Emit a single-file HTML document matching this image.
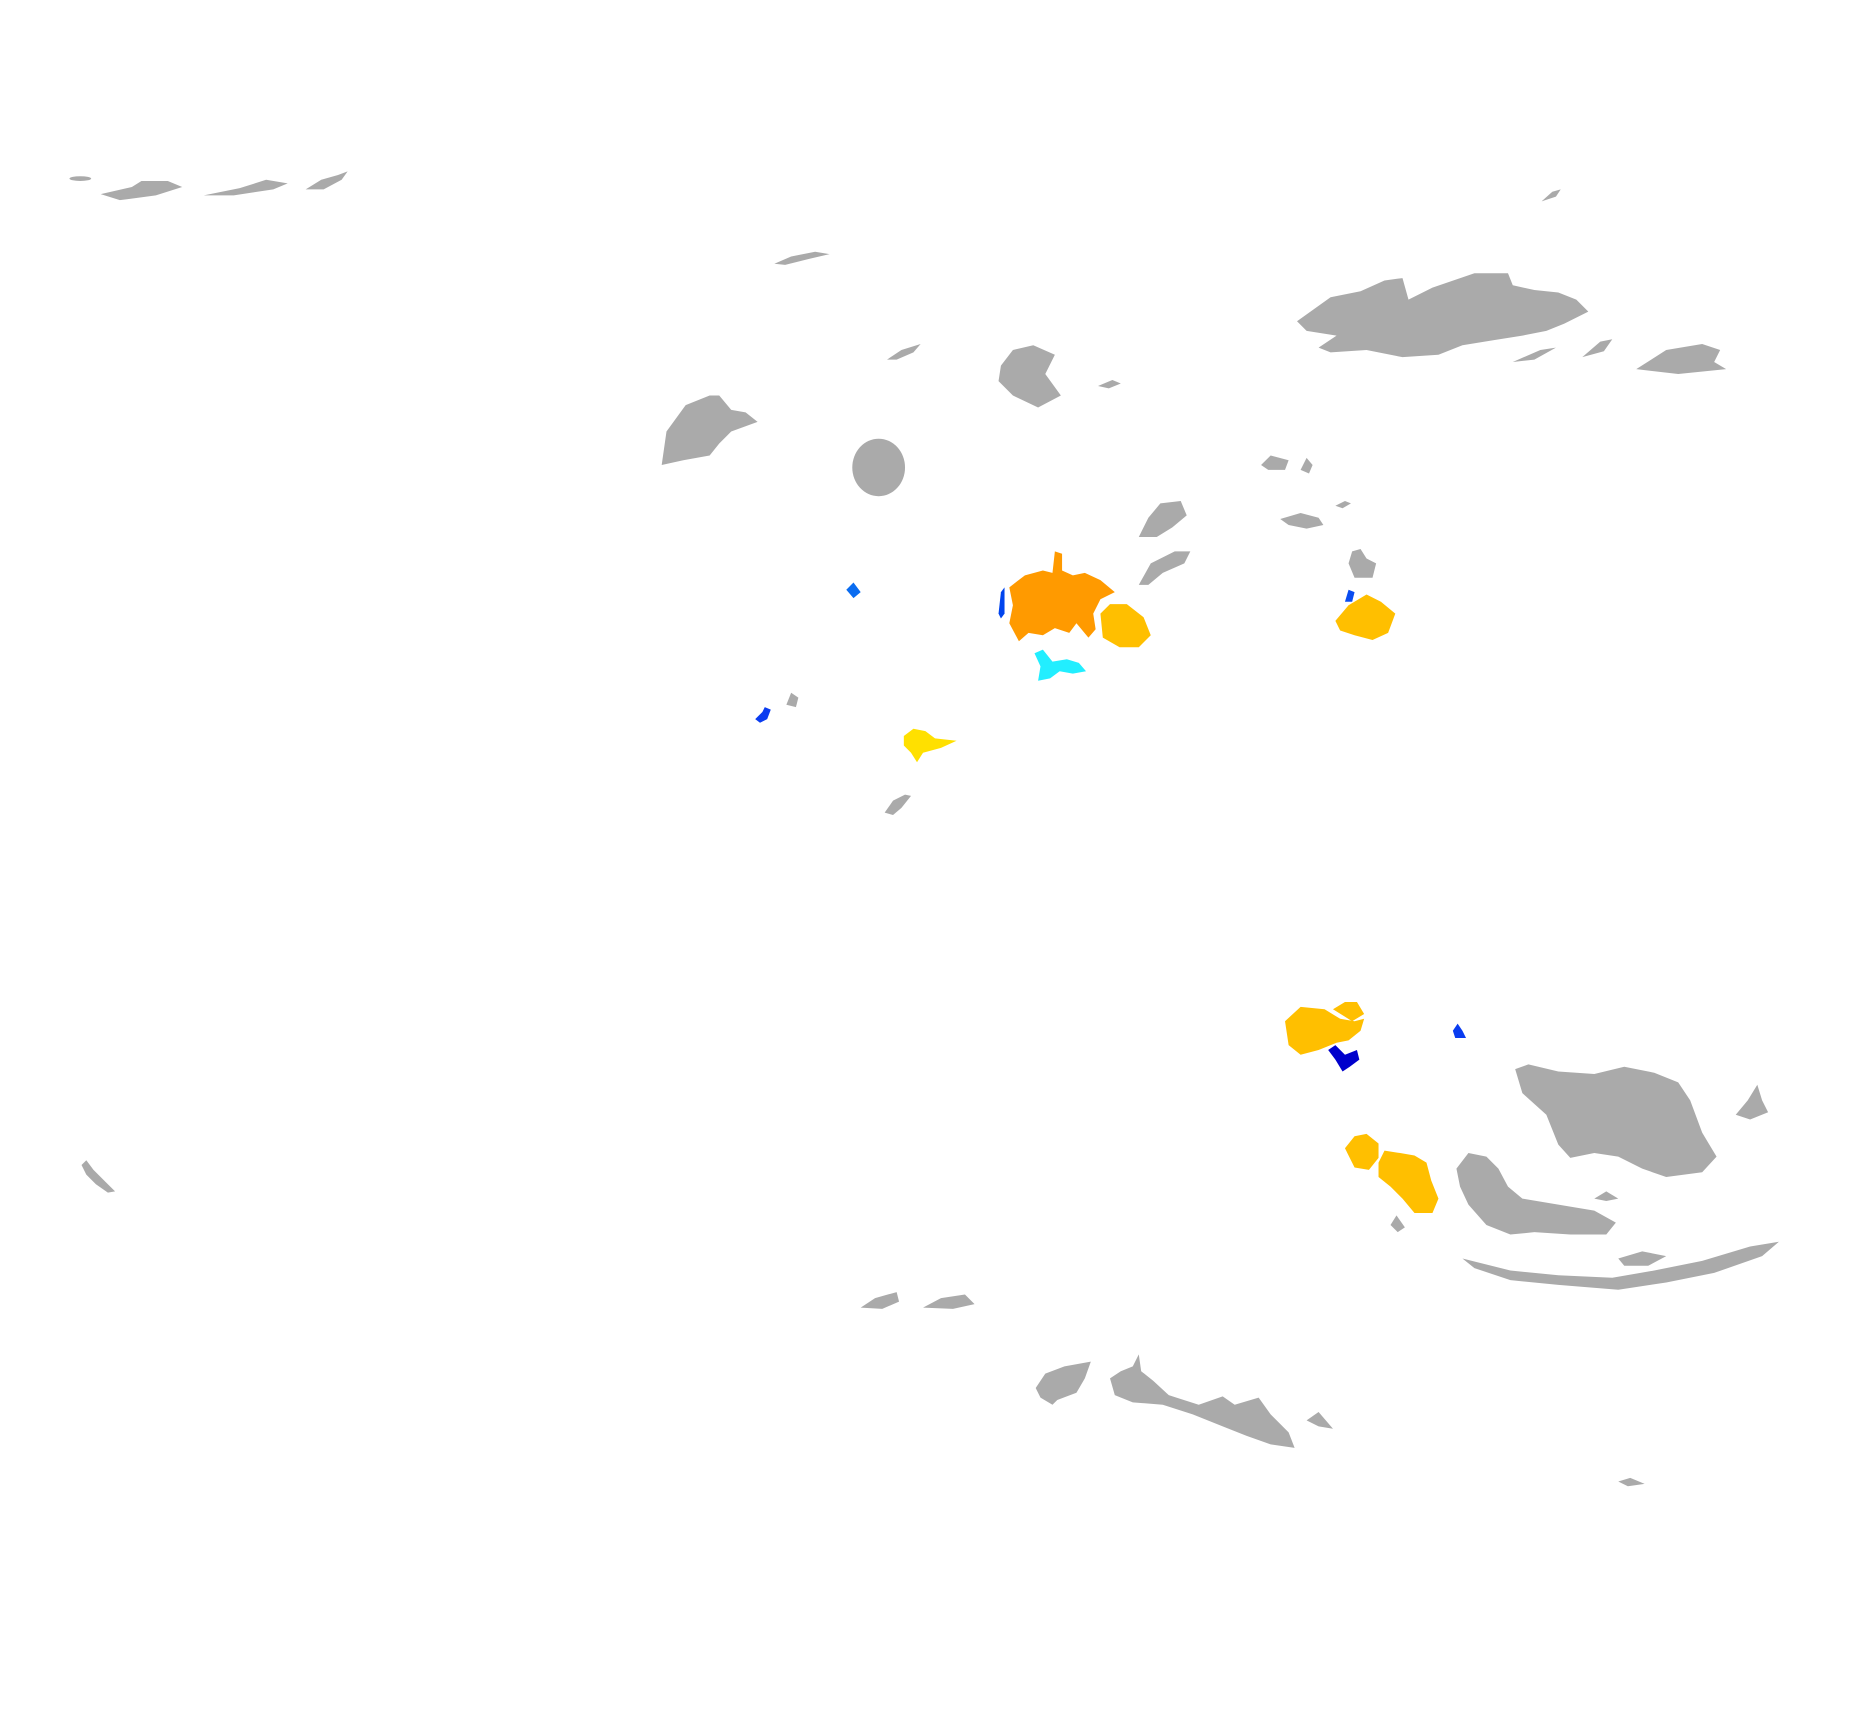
<!DOCTYPE html>
<html><head><meta charset="utf-8"><style>
html,body{margin:0;padding:0;background:#fff;}
svg{display:block;width:1870px;height:1714px;}
</style></head><body>
<svg viewBox="0 0 1560 1430" preserveAspectRatio="none" xmlns="http://www.w3.org/2000/svg">
<g fill="#aaaaaa">
<ellipse cx="67" cy="149" rx="9" ry="2"/>
<path d="M84 162 L110 156 L118 151 L140 151 L152 156 L130 163 L100 167 Z"/>
<path d="M170 163 L200 157 L222 150 L240 153 L228 158 L195 163 Z"/>
<path d="M255 158 L268 150 L282 146 L290 143 L285 150 L270 158 Z"/>
<path d="M646 220 L660 214 L680 210 L692 212 L675 216 L655 221 Z"/>
<path d="M740 300 L752 292 L768 287 L762 294 L748 300 Z"/>
<path d="M835 305 L845 292 L862 288 L880 296 L872 312 L885 330 L866 340 L845 330 L833 318 Z"/>
<path d="M916 322 L928 317 L935 320 L925 324 Z"/>
<path d="M552 388 L556 360 L572 338 L592 330 L600 330 L610 342 L622 344 L632 352 L610 360 L600 370 L592 380 L570 384 Z"/>
<ellipse cx="733" cy="390" rx="22" ry="24"/>
<path d="M1082 268 L1110 248 L1135 243 L1155 234 L1170 232 L1175 250 L1195 240 L1230 228 L1258 228 L1262 238 L1280 242 L1300 244 L1315 250 L1325 260 L1305 270 L1290 276 L1270 280 L1245 284 L1220 288 L1200 296 L1170 298 L1140 292 L1110 294 L1100 290 L1115 280 L1090 276 Z"/>
<path d="M1320 298 L1335 285 L1345 283 L1338 293 Z"/>
<path d="M1262 302 L1285 292 L1298 290 L1280 300 Z"/>
<path d="M1365 308 L1390 292 L1420 287 L1435 292 L1430 302 L1440 308 L1400 312 Z"/>
<path d="M1286 168 L1295 160 L1302 158 L1298 164 Z"/>
<path d="M1052 388 L1060 380 L1075 384 L1072 392 L1058 392 Z"/>
<path d="M1085 392 L1090 382 L1095 388 L1092 395 Z"/>
<path d="M950 448 L958 432 L968 420 L985 418 L990 430 L978 440 L965 448 Z"/>
<path d="M950 488 L960 470 L980 460 L993 460 L988 470 L970 478 L958 488 Z"/>
<path d="M1068 433 L1085 428 L1100 432 L1104 438 L1090 441 L1075 438 Z"/>
<path d="M1114 422 L1122 418 L1127 420 L1120 424 Z"/>
<path d="M1125 470 L1128 460 L1135 458 L1140 466 L1148 470 L1145 482 L1130 482 Z"/>
<path d="M656 588 L660 578 L666 582 L664 590 Z"/>
<path d="M738 678 L745 668 L755 663 L760 664 L752 674 L745 680 Z"/>
<path d="M1264 892 L1275 888 L1300 894 L1330 896 L1355 890 L1380 895 L1400 903 L1410 918 L1420 945 L1432 965 L1420 978 L1390 982 L1370 975 L1350 965 L1330 962 L1310 966 L1300 955 L1290 930 L1270 912 Z"/>
<path d="M1448 930 L1458 918 L1466 905 L1470 918 L1475 928 L1460 934 Z"/>
<path d="M1215 975 L1225 962 L1240 965 L1250 975 L1258 990 L1270 1000 L1300 1005 L1330 1010 L1348 1020 L1340 1030 L1310 1030 L1280 1028 L1260 1030 L1240 1022 L1225 1005 L1218 990 Z"/>
<path d="M1330 1000 L1340 994 L1350 1000 L1340 1002 Z"/>
<path d="M1220 1050 L1260 1060 L1300 1064 L1345 1066 L1380 1060 L1420 1052 L1460 1040 L1484 1036 L1470 1048 L1430 1062 L1390 1070 L1350 1076 L1300 1072 L1260 1068 L1230 1058 Z"/>
<path d="M1350 1050 L1370 1044 L1390 1048 L1375 1056 L1355 1056 Z"/>
<path d="M1160 1022 L1165 1014 L1172 1024 L1166 1028 Z"/>
<path d="M68 972 L72 968 L78 976 L88 986 L96 994 L90 995 L80 988 L72 980 Z"/>
<path d="M718 1091 L730 1083 L748 1078 L750 1086 L736 1092 Z"/>
<path d="M770 1091 L785 1083 L805 1080 L813 1088 L795 1092 Z"/>
<path d="M864 1158 L872 1146 L888 1140 L910 1136 L905 1150 L898 1162 L882 1168 L878 1172 L868 1166 Z"/>
<path d="M926 1150 L935 1144 L945 1140 L950 1130 L952 1144 L962 1152 L975 1164 L1000 1172 L1020 1165 L1030 1172 L1050 1166 L1060 1180 L1075 1195 L1080 1208 L1060 1205 L1040 1198 L1020 1190 L995 1180 L970 1172 L945 1170 L930 1164 Z"/>
<path d="M1090 1185 L1100 1178 L1112 1192 L1100 1190 Z"/>
<path d="M1350 1236 L1360 1233 L1372 1238 L1358 1240 Z"/>
</g>
<path fill="#ff9a00" d="M842 490 L855 480 L870 476 L878 478 L880 460 L886 462 L886 476 L895 480 L905 478 L918 484 L930 494 L918 500 L912 512 L914 525 L908 532 L898 520 L892 528 L880 524 L870 530 L858 528 L850 535 L842 520 L845 505 Z"/>
<path fill="#ffbf00" d="M918 512 L926 504 L940 504 L954 515 L960 530 L950 540 L934 540 L920 532 Z"/>
<path fill="#0044ee" d="M833 512 L835 494 L838 490 L838 512 L835 516 Z"/>
<path fill="#22eeff" d="M863 545 L870 542 L878 552 L890 550 L900 553 L906 560 L895 562 L884 560 L876 566 L866 568 L868 556 Z"/>
<path fill="#0a6cf0" d="M706 492 L712 486 L718 494 L712 499 Z"/>
<path fill="#0a3cf0" d="M630 600 L636 594 L638 590 L643 592 L640 600 L634 603 Z"/>
<path fill="#ffe000" d="M754 614 L762 608 L772 610 L780 616 L798 618 L785 624 L770 628 L765 636 L760 628 L754 622 Z"/>
<path fill="#ffbf00" d="M1114 518 L1125 505 L1140 496 L1152 502 L1164 512 L1158 528 L1145 534 L1130 530 L1118 526 Z"/>
<path fill="#0a4cf0" d="M1122 502 L1125 492 L1130 494 L1128 502 Z"/>
<path fill="#ffbf00" d="M1072 852 L1085 840 L1105 842 L1118 850 L1130 852 L1138 850 L1135 860 L1125 868 L1115 870 L1100 876 L1085 880 L1075 872 Z"/>
<path fill="#ffbf00" d="M1112 842 L1122 836 L1132 836 L1138 846 L1128 852 Z"/>
<path fill="#0000cc" d="M1108 876 L1114 872 L1122 880 L1132 876 L1134 884 L1126 890 L1120 894 L1114 884 Z"/>
<path fill="#0a3cf0" d="M1212 860 L1216 854 L1220 860 L1223 866 L1214 866 Z"/>
<path fill="#ffbf00" d="M1122 958 L1130 948 L1140 946 L1150 954 L1150 966 L1142 976 L1130 974 Z"/>
<path fill="#ffbf00" d="M1150 970 L1155 960 L1168 962 L1180 964 L1190 970 L1194 985 L1200 1000 L1195 1012 L1180 1012 L1170 1000 L1160 990 L1150 982 Z"/>
</svg>
</body></html>
